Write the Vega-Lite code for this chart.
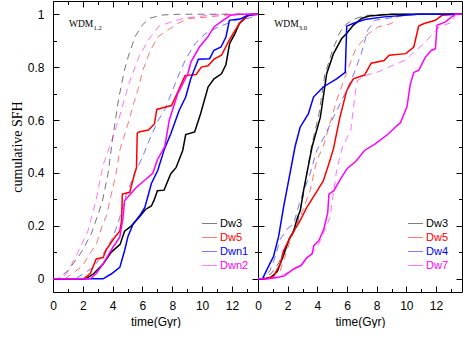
{
  "$schema": "https://vega.github.io/schema/vega-lite/v6.json",
  "background": "white",
  "padding": {"left": 10, "top": 0, "right": 0, "bottom": 0},
  "spacing": 0,
  "bounds": "flush",
  "datasets": {
    "left": [
      {"s":"Dw3","k":"solid","t":0,"v":0},{"s":"Dw3","k":"solid","t":2.2,"v":0},{"s":"Dw3","k":"solid","t":2.7,"v":0.018},{"s":"Dw3","k":"solid","t":3.36,"v":0.056},{"s":"Dw3","k":"solid","t":3.9,"v":0.1},{"s":"Dw3","k":"solid","t":4.5,"v":0.13},{"s":"Dw3","k":"solid","t":4.8,"v":0.18},{"s":"Dw3","k":"solid","t":5.26,"v":0.2},{"s":"Dw3","k":"solid","t":5.82,"v":0.235},{"s":"Dw3","k":"solid","t":6.2,"v":0.262},{"s":"Dw3","k":"solid","t":6.6,"v":0.275},{"s":"Dw3","k":"solid","t":6.8,"v":0.3},{"s":"Dw3","k":"solid","t":7.0,"v":0.333},{"s":"Dw3","k":"solid","t":7.45,"v":0.335},{"s":"Dw3","k":"solid","t":7.9,"v":0.397},{"s":"Dw3","k":"solid","t":8.25,"v":0.42},{"s":"Dw3","k":"solid","t":8.7,"v":0.485},{"s":"Dw3","k":"solid","t":8.9,"v":0.545},{"s":"Dw3","k":"solid","t":9.5,"v":0.555},{"s":"Dw3","k":"solid","t":9.9,"v":0.624},{"s":"Dw3","k":"solid","t":10.4,"v":0.725},{"s":"Dw3","k":"solid","t":10.8,"v":0.756},{"s":"Dw3","k":"solid","t":11.3,"v":0.775},{"s":"Dw3","k":"solid","t":11.6,"v":0.81},{"s":"Dw3","k":"solid","t":11.85,"v":0.89},{"s":"Dw3","k":"solid","t":12.2,"v":0.926},{"s":"Dw3","k":"solid","t":12.5,"v":0.965},{"s":"Dw3","k":"solid","t":12.95,"v":0.99},{"s":"Dw3","k":"solid","t":13.3,"v":1.0},{"s":"Dw3","k":"solid","t":13.75,"v":1.0},
      {"s":"Dw5","k":"solid","t":0,"v":0},{"s":"Dw5","k":"solid","t":2.05,"v":0},{"s":"Dw5","k":"solid","t":2.5,"v":0.02},{"s":"Dw5","k":"solid","t":2.9,"v":0.075},{"s":"Dw5","k":"solid","t":3.36,"v":0.08},{"s":"Dw5","k":"solid","t":3.58,"v":0.11},{"s":"Dw5","k":"solid","t":4.14,"v":0.157},{"s":"Dw5","k":"solid","t":4.48,"v":0.18},{"s":"Dw5","k":"solid","t":4.6,"v":0.22},{"s":"Dw5","k":"solid","t":4.65,"v":0.32},{"s":"Dw5","k":"solid","t":5.15,"v":0.327},{"s":"Dw5","k":"solid","t":5.48,"v":0.4},{"s":"Dw5","k":"solid","t":5.6,"v":0.42},{"s":"Dw5","k":"solid","t":5.65,"v":0.55},{"s":"Dw5","k":"solid","t":5.75,"v":0.555},{"s":"Dw5","k":"solid","t":6.4,"v":0.562},{"s":"Dw5","k":"solid","t":6.8,"v":0.585},{"s":"Dw5","k":"solid","t":6.96,"v":0.64},{"s":"Dw5","k":"solid","t":7.5,"v":0.648},{"s":"Dw5","k":"solid","t":7.95,"v":0.655},{"s":"Dw5","k":"solid","t":8.4,"v":0.71},{"s":"Dw5","k":"solid","t":8.85,"v":0.768},{"s":"Dw5","k":"solid","t":9.6,"v":0.772},{"s":"Dw5","k":"solid","t":9.95,"v":0.8},{"s":"Dw5","k":"solid","t":10.4,"v":0.805},{"s":"Dw5","k":"solid","t":10.8,"v":0.83},{"s":"Dw5","k":"solid","t":11.3,"v":0.845},{"s":"Dw5","k":"solid","t":11.8,"v":0.9},{"s":"Dw5","k":"solid","t":12.5,"v":0.965},{"s":"Dw5","k":"solid","t":13.1,"v":0.996},{"s":"Dw5","k":"solid","t":13.75,"v":1.0},
      {"s":"Dwn1","k":"solid","t":0,"v":0},{"s":"Dwn1","k":"solid","t":3.36,"v":0},{"s":"Dwn1","k":"solid","t":3.9,"v":0.018},{"s":"Dwn1","k":"solid","t":4.48,"v":0.043},{"s":"Dwn1","k":"solid","t":4.8,"v":0.106},{"s":"Dwn1","k":"solid","t":5.03,"v":0.16},{"s":"Dwn1","k":"solid","t":5.37,"v":0.207},{"s":"Dwn1","k":"solid","t":5.82,"v":0.239},{"s":"Dwn1","k":"solid","t":6.16,"v":0.27},{"s":"Dwn1","k":"solid","t":6.6,"v":0.36},{"s":"Dwn1","k":"solid","t":7.03,"v":0.41},{"s":"Dwn1","k":"solid","t":7.47,"v":0.49},{"s":"Dwn1","k":"solid","t":7.9,"v":0.548},{"s":"Dwn1","k":"solid","t":8.46,"v":0.636},{"s":"Dwn1","k":"solid","t":8.9,"v":0.687},{"s":"Dwn1","k":"solid","t":9.24,"v":0.756},{"s":"Dwn1","k":"solid","t":9.75,"v":0.83},{"s":"Dwn1","k":"solid","t":10.5,"v":0.832},{"s":"Dwn1","k":"solid","t":10.8,"v":0.864},{"s":"Dwn1","k":"solid","t":11.27,"v":0.876},{"s":"Dwn1","k":"solid","t":11.6,"v":0.914},{"s":"Dwn1","k":"solid","t":11.83,"v":0.977},{"s":"Dwn1","k":"solid","t":12.6,"v":0.983},{"s":"Dwn1","k":"solid","t":13.07,"v":0.996},{"s":"Dwn1","k":"solid","t":13.75,"v":1.0},
      {"s":"Dwn2","k":"solid","t":0,"v":0},{"s":"Dwn2","k":"solid","t":2.5,"v":0},{"s":"Dwn2","k":"solid","t":2.9,"v":0.02},{"s":"Dwn2","k":"solid","t":3.36,"v":0.056},{"s":"Dwn2","k":"solid","t":4.03,"v":0.12},{"s":"Dwn2","k":"solid","t":4.48,"v":0.157},{"s":"Dwn2","k":"solid","t":4.7,"v":0.232},{"s":"Dwn2","k":"solid","t":4.8,"v":0.295},{"s":"Dwn2","k":"solid","t":5.6,"v":0.346},{"s":"Dwn2","k":"solid","t":6.27,"v":0.378},{"s":"Dwn2","k":"solid","t":6.7,"v":0.4},{"s":"Dwn2","k":"solid","t":7.0,"v":0.45},{"s":"Dwn2","k":"solid","t":7.5,"v":0.5},{"s":"Dwn2","k":"solid","t":7.8,"v":0.6},{"s":"Dwn2","k":"solid","t":8.37,"v":0.7},{"s":"Dwn2","k":"solid","t":9.04,"v":0.775},{"s":"Dwn2","k":"solid","t":9.26,"v":0.82},{"s":"Dwn2","k":"solid","t":9.82,"v":0.876},{"s":"Dwn2","k":"solid","t":10.38,"v":0.914},{"s":"Dwn2","k":"solid","t":10.8,"v":0.952},{"s":"Dwn2","k":"solid","t":11.4,"v":0.977},{"s":"Dwn2","k":"solid","t":11.9,"v":0.996},{"s":"Dwn2","k":"solid","t":12.5,"v":1.0},{"s":"Dwn2","k":"solid","t":13.75,"v":1.0},
      {"s":"Dw3","k":"dashed","t":0,"v":0},{"s":"Dw3","k":"dashed","t":0.3,"v":0},{"s":"Dw3","k":"dashed","t":1.0,"v":0.03},{"s":"Dw3","k":"dashed","t":1.9,"v":0.1},{"s":"Dw3","k":"dashed","t":2.57,"v":0.17},{"s":"Dw3","k":"dashed","t":3.0,"v":0.24},{"s":"Dw3","k":"dashed","t":3.3,"v":0.29},{"s":"Dw3","k":"dashed","t":3.7,"v":0.4},{"s":"Dw3","k":"dashed","t":4.0,"v":0.53},{"s":"Dw3","k":"dashed","t":4.4,"v":0.68},{"s":"Dw3","k":"dashed","t":4.8,"v":0.79},{"s":"Dw3","k":"dashed","t":5.05,"v":0.84},{"s":"Dw3","k":"dashed","t":5.5,"v":0.915},{"s":"Dw3","k":"dashed","t":6.0,"v":0.96},{"s":"Dw3","k":"dashed","t":6.5,"v":0.985},{"s":"Dw3","k":"dashed","t":7.3,"v":0.997},{"s":"Dw3","k":"dashed","t":8.5,"v":1.0},{"s":"Dw3","k":"dashed","t":13.75,"v":1.0},
      {"s":"Dw5","k":"dashed","t":0,"v":0},{"s":"Dw5","k":"dashed","t":0.8,"v":0},{"s":"Dw5","k":"dashed","t":1.44,"v":0.025},{"s":"Dw5","k":"dashed","t":2.0,"v":0.05},{"s":"Dw5","k":"dashed","t":2.4,"v":0.09},{"s":"Dw5","k":"dashed","t":2.9,"v":0.13},{"s":"Dw5","k":"dashed","t":3.3,"v":0.2},{"s":"Dw5","k":"dashed","t":3.6,"v":0.24},{"s":"Dw5","k":"dashed","t":3.95,"v":0.33},{"s":"Dw5","k":"dashed","t":4.2,"v":0.39},{"s":"Dw5","k":"dashed","t":4.5,"v":0.49},{"s":"Dw5","k":"dashed","t":5.0,"v":0.58},{"s":"Dw5","k":"dashed","t":5.4,"v":0.66},{"s":"Dw5","k":"dashed","t":5.72,"v":0.72},{"s":"Dw5","k":"dashed","t":6.04,"v":0.79},{"s":"Dw5","k":"dashed","t":6.5,"v":0.86},{"s":"Dw5","k":"dashed","t":7.03,"v":0.914},{"s":"Dw5","k":"dashed","t":7.7,"v":0.94},{"s":"Dw5","k":"dashed","t":8.37,"v":0.965},{"s":"Dw5","k":"dashed","t":9.04,"v":0.983},{"s":"Dw5","k":"dashed","t":10.45,"v":0.99},{"s":"Dw5","k":"dashed","t":11.5,"v":0.996},{"s":"Dw5","k":"dashed","t":12.5,"v":1.0},{"s":"Dw5","k":"dashed","t":13.75,"v":1.0},
      {"s":"Dwn1","k":"dashed","t":0,"v":0},{"s":"Dwn1","k":"dashed","t":1.5,"v":0},{"s":"Dwn1","k":"dashed","t":2.7,"v":0.043},{"s":"Dwn1","k":"dashed","t":3.36,"v":0.094},{"s":"Dwn1","k":"dashed","t":4.03,"v":0.157},{"s":"Dwn1","k":"dashed","t":4.48,"v":0.232},{"s":"Dwn1","k":"dashed","t":4.92,"v":0.32},{"s":"Dwn1","k":"dashed","t":5.5,"v":0.4},{"s":"Dwn1","k":"dashed","t":6.0,"v":0.46},{"s":"Dwn1","k":"dashed","t":6.5,"v":0.53},{"s":"Dwn1","k":"dashed","t":7.07,"v":0.6},{"s":"Dwn1","k":"dashed","t":7.5,"v":0.64},{"s":"Dwn1","k":"dashed","t":8.0,"v":0.71},{"s":"Dwn1","k":"dashed","t":8.5,"v":0.78},{"s":"Dwn1","k":"dashed","t":8.9,"v":0.83},{"s":"Dwn1","k":"dashed","t":9.55,"v":0.89},{"s":"Dwn1","k":"dashed","t":10.2,"v":0.926},{"s":"Dwn1","k":"dashed","t":11.1,"v":0.952},{"s":"Dwn1","k":"dashed","t":12.25,"v":0.977},{"s":"Dwn1","k":"dashed","t":13.15,"v":0.985},{"s":"Dwn1","k":"dashed","t":13.75,"v":1.0},
      {"s":"Dwn2","k":"dashed","t":0,"v":0},{"s":"Dwn2","k":"dashed","t":0.5,"v":0},{"s":"Dwn2","k":"dashed","t":0.9,"v":0.018},{"s":"Dwn2","k":"dashed","t":1.67,"v":0.1},{"s":"Dwn2","k":"dashed","t":2.34,"v":0.18},{"s":"Dwn2","k":"dashed","t":2.9,"v":0.3},{"s":"Dwn2","k":"dashed","t":3.36,"v":0.43},{"s":"Dwn2","k":"dashed","t":3.8,"v":0.5},{"s":"Dwn2","k":"dashed","t":4.4,"v":0.6},{"s":"Dwn2","k":"dashed","t":5.1,"v":0.74},{"s":"Dwn2","k":"dashed","t":5.77,"v":0.84},{"s":"Dwn2","k":"dashed","t":6.45,"v":0.907},{"s":"Dwn2","k":"dashed","t":7.1,"v":0.955},{"s":"Dwn2","k":"dashed","t":7.9,"v":0.97},{"s":"Dwn2","k":"dashed","t":8.8,"v":0.985},{"s":"Dwn2","k":"dashed","t":10.45,"v":0.996},{"s":"Dwn2","k":"dashed","t":11.5,"v":1.0},{"s":"Dwn2","k":"dashed","t":13.75,"v":1.0}
    ],
    "right": [
      {"s":"Dw3","k":"solid","t":0,"v":0},{"s":"Dw3","k":"solid","t":0.4,"v":0},{"s":"Dw3","k":"solid","t":0.85,"v":0.005},{"s":"Dw3","k":"solid","t":1.3,"v":0.027},{"s":"Dw3","k":"solid","t":1.75,"v":0.094},{"s":"Dw3","k":"solid","t":2.1,"v":0.15},{"s":"Dw3","k":"solid","t":2.4,"v":0.18},{"s":"Dw3","k":"solid","t":2.65,"v":0.23},{"s":"Dw3","k":"solid","t":2.85,"v":0.258},{"s":"Dw3","k":"solid","t":3.07,"v":0.333},{"s":"Dw3","k":"solid","t":3.3,"v":0.4},{"s":"Dw3","k":"solid","t":3.65,"v":0.5},{"s":"Dw3","k":"solid","t":4.2,"v":0.61},{"s":"Dw3","k":"solid","t":4.63,"v":0.775},{"s":"Dw3","k":"solid","t":5.08,"v":0.85},{"s":"Dw3","k":"solid","t":5.64,"v":0.908},{"s":"Dw3","k":"solid","t":5.97,"v":0.927},{"s":"Dw3","k":"solid","t":6.42,"v":0.958},{"s":"Dw3","k":"solid","t":7.0,"v":0.985},{"s":"Dw3","k":"solid","t":7.5,"v":0.993},{"s":"Dw3","k":"solid","t":9.0,"v":1.0},{"s":"Dw3","k":"solid","t":13.75,"v":1.0},
      {"s":"Dw5","k":"solid","t":0,"v":0},{"s":"Dw5","k":"solid","t":0.6,"v":0},{"s":"Dw5","k":"solid","t":1.05,"v":0.01},{"s":"Dw5","k":"solid","t":1.5,"v":0.056},{"s":"Dw5","k":"solid","t":1.72,"v":0.106},{"s":"Dw5","k":"solid","t":2.17,"v":0.157},{"s":"Dw5","k":"solid","t":2.84,"v":0.22},{"s":"Dw5","k":"solid","t":3.29,"v":0.27},{"s":"Dw5","k":"solid","t":3.85,"v":0.32},{"s":"Dw5","k":"solid","t":4.4,"v":0.37},{"s":"Dw5","k":"solid","t":4.75,"v":0.43},{"s":"Dw5","k":"solid","t":5.08,"v":0.49},{"s":"Dw5","k":"solid","t":5.52,"v":0.61},{"s":"Dw5","k":"solid","t":5.97,"v":0.71},{"s":"Dw5","k":"solid","t":6.42,"v":0.756},{"s":"Dw5","k":"solid","t":7.18,"v":0.77},{"s":"Dw5","k":"solid","t":7.63,"v":0.815},{"s":"Dw5","k":"solid","t":8.5,"v":0.825},{"s":"Dw5","k":"solid","t":8.84,"v":0.845},{"s":"Dw5","k":"solid","t":9.96,"v":0.851},{"s":"Dw5","k":"solid","t":10.5,"v":0.876},{"s":"Dw5","k":"solid","t":10.83,"v":0.955},{"s":"Dw5","k":"solid","t":11.2,"v":0.965},{"s":"Dw5","k":"solid","t":11.96,"v":0.977},{"s":"Dw5","k":"solid","t":12.4,"v":0.996},{"s":"Dw5","k":"solid","t":13.4,"v":1.0},{"s":"Dw5","k":"solid","t":13.75,"v":1.0},
      {"s":"Dw4","k":"solid","t":0,"v":0},{"s":"Dw4","k":"solid","t":0.3,"v":0},{"s":"Dw4","k":"solid","t":0.65,"v":0.04},{"s":"Dw4","k":"solid","t":1.05,"v":0.085},{"s":"Dw4","k":"solid","t":1.39,"v":0.16},{"s":"Dw4","k":"solid","t":1.72,"v":0.27},{"s":"Dw4","k":"solid","t":2.06,"v":0.37},{"s":"Dw4","k":"solid","t":2.5,"v":0.5},{"s":"Dw4","k":"solid","t":2.84,"v":0.573},{"s":"Dw4","k":"solid","t":3.4,"v":0.624},{"s":"Dw4","k":"solid","t":3.74,"v":0.687},{"s":"Dw4","k":"solid","t":4.4,"v":0.725},{"s":"Dw4","k":"solid","t":5.3,"v":0.756},{"s":"Dw4","k":"solid","t":5.88,"v":0.78},{"s":"Dw4","k":"solid","t":5.98,"v":0.955},{"s":"Dw4","k":"solid","t":6.4,"v":0.965},{"s":"Dw4","k":"solid","t":7.2,"v":0.98},{"s":"Dw4","k":"solid","t":8.5,"v":0.99},{"s":"Dw4","k":"solid","t":10.8,"v":1.0},{"s":"Dw4","k":"solid","t":13.75,"v":1.0},
      {"s":"Dw7","k":"solid","t":0,"v":0},{"s":"Dw7","k":"solid","t":0.7,"v":0},{"s":"Dw7","k":"solid","t":1.28,"v":0.005},{"s":"Dw7","k":"solid","t":1.78,"v":0.011},{"s":"Dw7","k":"solid","t":2.4,"v":0.037},{"s":"Dw7","k":"solid","t":2.9,"v":0.05},{"s":"Dw7","k":"solid","t":3.3,"v":0.08},{"s":"Dw7","k":"solid","t":3.65,"v":0.094},{"s":"Dw7","k":"solid","t":3.76,"v":0.125},{"s":"Dw7","k":"solid","t":4.1,"v":0.144},{"s":"Dw7","k":"solid","t":4.44,"v":0.188},{"s":"Dw7","k":"solid","t":4.7,"v":0.25},{"s":"Dw7","k":"solid","t":4.78,"v":0.32},{"s":"Dw7","k":"solid","t":5.11,"v":0.333},{"s":"Dw7","k":"solid","t":5.57,"v":0.378},{"s":"Dw7","k":"solid","t":6.0,"v":0.416},{"s":"Dw7","k":"solid","t":6.6,"v":0.444},{"s":"Dw7","k":"solid","t":7.18,"v":0.485},{"s":"Dw7","k":"solid","t":7.9,"v":0.51},{"s":"Dw7","k":"solid","t":8.8,"v":0.548},{"s":"Dw7","k":"solid","t":9.25,"v":0.573},{"s":"Dw7","k":"solid","t":9.6,"v":0.59},{"s":"Dw7","k":"solid","t":10.04,"v":0.65},{"s":"Dw7","k":"solid","t":10.27,"v":0.737},{"s":"Dw7","k":"solid","t":10.5,"v":0.78},{"s":"Dw7","k":"solid","t":10.83,"v":0.788},{"s":"Dw7","k":"solid","t":11.28,"v":0.838},{"s":"Dw7","k":"solid","t":11.7,"v":0.864},{"s":"Dw7","k":"solid","t":11.96,"v":0.87},{"s":"Dw7","k":"solid","t":12.07,"v":0.958},{"s":"Dw7","k":"solid","t":12.6,"v":0.97},{"s":"Dw7","k":"solid","t":13.3,"v":1.0},{"s":"Dw7","k":"solid","t":13.75,"v":1.0},
      {"s":"Dw3","k":"dashed","t":0,"v":0},{"s":"Dw3","k":"dashed","t":0.3,"v":0},{"s":"Dw3","k":"dashed","t":0.9,"v":0.02},{"s":"Dw3","k":"dashed","t":1.4,"v":0.06},{"s":"Dw3","k":"dashed","t":1.8,"v":0.11},{"s":"Dw3","k":"dashed","t":2.3,"v":0.17},{"s":"Dw3","k":"dashed","t":2.7,"v":0.22},{"s":"Dw3","k":"dashed","t":3.0,"v":0.3},{"s":"Dw3","k":"dashed","t":3.3,"v":0.4},{"s":"Dw3","k":"dashed","t":3.6,"v":0.5},{"s":"Dw3","k":"dashed","t":4.1,"v":0.62},{"s":"Dw3","k":"dashed","t":4.5,"v":0.77},{"s":"Dw3","k":"dashed","t":5.0,"v":0.86},{"s":"Dw3","k":"dashed","t":5.5,"v":0.93},{"s":"Dw3","k":"dashed","t":5.9,"v":0.96},{"s":"Dw3","k":"dashed","t":6.4,"v":0.98},{"s":"Dw3","k":"dashed","t":7.2,"v":0.995},{"s":"Dw3","k":"dashed","t":8.5,"v":1.0},{"s":"Dw3","k":"dashed","t":13.75,"v":1.0},
      {"s":"Dw5","k":"dashed","t":0,"v":0},{"s":"Dw5","k":"dashed","t":0.6,"v":0},{"s":"Dw5","k":"dashed","t":1.5,"v":0.03},{"s":"Dw5","k":"dashed","t":2.17,"v":0.144},{"s":"Dw5","k":"dashed","t":2.84,"v":0.232},{"s":"Dw5","k":"dashed","t":3.51,"v":0.333},{"s":"Dw5","k":"dashed","t":3.96,"v":0.447},{"s":"Dw5","k":"dashed","t":4.4,"v":0.5},{"s":"Dw5","k":"dashed","t":5.3,"v":0.674},{"s":"Dw5","k":"dashed","t":5.97,"v":0.78},{"s":"Dw5","k":"dashed","t":6.6,"v":0.87},{"s":"Dw5","k":"dashed","t":7.42,"v":0.926},{"s":"Dw5","k":"dashed","t":8.1,"v":0.952},{"s":"Dw5","k":"dashed","t":9.0,"v":0.965},{"s":"Dw5","k":"dashed","t":9.45,"v":0.996},{"s":"Dw5","k":"dashed","t":10.5,"v":1.0},{"s":"Dw5","k":"dashed","t":13.75,"v":1.0},
      {"s":"Dw4","k":"dashed","t":0,"v":0},{"s":"Dw4","k":"dashed","t":0.3,"v":0},{"s":"Dw4","k":"dashed","t":0.8,"v":0.03},{"s":"Dw4","k":"dashed","t":1.2,"v":0.09},{"s":"Dw4","k":"dashed","t":1.5,"v":0.15},{"s":"Dw4","k":"dashed","t":2.0,"v":0.19},{"s":"Dw4","k":"dashed","t":2.4,"v":0.207},{"s":"Dw4","k":"dashed","t":2.84,"v":0.295},{"s":"Dw4","k":"dashed","t":3.51,"v":0.397},{"s":"Dw4","k":"dashed","t":3.96,"v":0.485},{"s":"Dw4","k":"dashed","t":4.5,"v":0.54},{"s":"Dw4","k":"dashed","t":5.08,"v":0.61},{"s":"Dw4","k":"dashed","t":5.97,"v":0.712},{"s":"Dw4","k":"dashed","t":6.5,"v":0.78},{"s":"Dw4","k":"dashed","t":6.96,"v":0.851},{"s":"Dw4","k":"dashed","t":7.4,"v":0.94},{"s":"Dw4","k":"dashed","t":7.86,"v":0.977},{"s":"Dw4","k":"dashed","t":8.8,"v":0.985},{"s":"Dw4","k":"dashed","t":9.9,"v":0.996},{"s":"Dw4","k":"dashed","t":11.0,"v":1.0},{"s":"Dw4","k":"dashed","t":13.75,"v":1.0},
      {"s":"Dw7","k":"dashed","t":0,"v":0},{"s":"Dw7","k":"dashed","t":0.7,"v":0},{"s":"Dw7","k":"dashed","t":1.5,"v":0.01},{"s":"Dw7","k":"dashed","t":2.23,"v":0.03},{"s":"Dw7","k":"dashed","t":3.0,"v":0.06},{"s":"Dw7","k":"dashed","t":3.58,"v":0.094},{"s":"Dw7","k":"dashed","t":4.0,"v":0.12},{"s":"Dw7","k":"dashed","t":4.4,"v":0.17},{"s":"Dw7","k":"dashed","t":4.85,"v":0.232},{"s":"Dw7","k":"dashed","t":5.3,"v":0.41},{"s":"Dw7","k":"dashed","t":5.7,"v":0.5},{"s":"Dw7","k":"dashed","t":6.25,"v":0.56},{"s":"Dw7","k":"dashed","t":6.55,"v":0.7},{"s":"Dw7","k":"dashed","t":6.7,"v":0.75},{"s":"Dw7","k":"dashed","t":7.45,"v":0.772},{"s":"Dw7","k":"dashed","t":8.1,"v":0.782},{"s":"Dw7","k":"dashed","t":8.8,"v":0.8},{"s":"Dw7","k":"dashed","t":9.93,"v":0.826},{"s":"Dw7","k":"dashed","t":10.38,"v":0.85},{"s":"Dw7","k":"dashed","t":11.0,"v":0.88},{"s":"Dw7","k":"dashed","t":11.7,"v":0.92},{"s":"Dw7","k":"dashed","t":12.2,"v":0.952},{"s":"Dw7","k":"dashed","t":13.1,"v":0.97},{"s":"Dw7","k":"dashed","t":13.3,"v":1.0},{"s":"Dw7","k":"dashed","t":13.75,"v":1.0}
    ]
  },
  "hconcat": [
    {
      "width": 205,
      "height": 291,
      "layer": [
        {
          "data": {"name": "left"},
          "encoding": {
            "x": {"field": "t", "type": "quantitative", "scale": {"domain": [0, 13.75], "nice": false, "zero": false},
              "axis": {"orient": "bottom", "values": [0,1,2,3,4,5,6,7,8,9,10,11,12,13], "labelExpr": "datum.value % 2 == 0 ? datum.label : ''", "tickSize": {"condition": {"test": "datum.value % 2 == 0", "value": -6}, "value": -3.5}, "labelPadding": 14, "labelFlush": false, "labelOverlap": false, "labelFont": "Liberation Sans", "labelFontSize": 12, "labelColor": "black", "title": "time(Gyr)", "titleFont": "Liberation Sans", "titleFontSize": 12, "titleFontWeight": "normal", "titleColor": "black", "titlePadding": 3}},
            "y": {"field": "v", "type": "quantitative", "scale": {"domain": [-0.05, 1.05], "nice": false, "zero": false},
              "axis": {"orient": "left", "values": [0,0.1,0.2,0.3,0.4,0.5,0.6,0.7,0.8,0.9,1], "labelExpr": "round(datum.value*10) % 2 == 0 ? format(datum.value, '~g') : ''", "tickSize": {"condition": {"test": "round(datum.value*10) % 2 == 0", "value": -6}, "value": -3.5}, "labelPadding": 15, "labelFlush": false, "labelOverlap": false, "labelFont": "Liberation Sans", "labelFontSize": 12, "labelColor": "black", "title": "cumulative SFH", "titleFont": "Liberation Serif", "titleFontSize": 14, "titleFontWeight": "normal", "titleColor": "black", "titlePadding": 2.5}},
            "color": {"field": "s", "type": "nominal", "scale": {"domain": ["Dw3", "Dw5", "Dwn1", "Dwn2"], "range": ["#000000", "#ff0000", "#0000ff", "#ff00ff"]},
              "legend": {"orient": "none", "legendX": 148, "legendY": 214, "title": null, "padding": 0, "symbolType": "stroke", "symbolSize": 225, "symbolStrokeWidth": 1.2, "symbolOpacity": 0.5, "symbolDash": [1, 0], "labelFont": "Liberation Sans", "labelFontSize": 11, "labelOffset": 2, "rowPadding": -2.5,
                "encode": {"labels": {"update": {"fill": {"signal": "datum.value == 'Dw3' ? '#000000' : datum.value == 'Dw5' ? '#ff0000' : datum.value == 'Dwn1' ? '#0000ff' : '#ff00ff'"}}}}}}
          },
          "layer": [
            {"transform": [{"filter": "datum.k == 'dashed'"}], "mark": {"type": "line", "strokeDash": [7, 5], "strokeWidth": 1, "opacity": 0.55}},
            {"transform": [{"filter": "datum.k == 'solid'"}], "mark": {"type": "line", "strokeWidth": 1.5}}
          ]
        },
        {
          "data": {"values": [{"t": 1.07, "v": 0.952, "lab": "WDM"}]},
          "mark": {"type": "text", "font": "Liberation Serif", "fontSize": 9.5, "align": "left", "baseline": "alphabetic", "color": "black"},
          "encoding": {
            "x": {"field": "t", "type": "quantitative", "axis": {"orient": "top", "values": [0,1,2,3,4,5,6,7,8,9,10,11,12,13], "labels": false, "title": null, "tickSize": {"condition": {"test": "datum.value % 2 == 0", "value": -6}, "value": -3.5}}},
            "y": {"field": "v", "type": "quantitative", "axis": {"orient": "right", "values": [0,0.1,0.2,0.3,0.4,0.5,0.6,0.7,0.8,0.9,1], "labels": false, "title": null, "tickSize": {"condition": {"test": "round(datum.value*10) % 2 == 0", "value": -6}, "value": -3.5}}},
            "text": {"field": "lab"}
          }
        },
        {
          "data": {"values": [{"t": 2.72, "v": 0.94, "lab": "1.2"}]},
          "mark": {"type": "text", "font": "Liberation Serif", "fontSize": 6.5, "align": "left", "baseline": "alphabetic", "color": "black"},
          "encoding": {
            "x": {"field": "t", "type": "quantitative", "axis": null},
            "y": {"field": "v", "type": "quantitative", "axis": null},
            "text": {"field": "lab"}
          }
        }
      ],
      "resolve": {"axis": {"x": "independent", "y": "independent"}}
    },
    {
      "width": 204,
      "height": 291,
      "layer": [
        {
          "data": {"name": "right"},
          "encoding": {
            "x": {"field": "t", "type": "quantitative", "scale": {"domain": [0, 13.75], "nice": false, "zero": false},
              "axis": {"orient": "bottom", "values": [0,1,2,3,4,5,6,7,8,9,10,11,12,13], "labelExpr": "datum.value % 2 == 0 ? datum.label : ''", "tickSize": {"condition": {"test": "datum.value % 2 == 0", "value": -6}, "value": -3.5}, "labelPadding": 14, "labelFlush": false, "labelOverlap": false, "labelFont": "Liberation Sans", "labelFontSize": 12, "labelColor": "black", "title": "time(Gyr)", "titleFont": "Liberation Sans", "titleFontSize": 12, "titleFontWeight": "normal", "titleColor": "black", "titlePadding": 3}},
            "y": {"field": "v", "type": "quantitative", "scale": {"domain": [-0.05, 1.05], "nice": false, "zero": false},
              "axis": {"orient": "left", "values": [0,0.1,0.2,0.3,0.4,0.5,0.6,0.7,0.8,0.9,1], "labels": false, "title": null, "tickSize": {"condition": {"test": "round(datum.value*10) % 2 == 0", "value": -6}, "value": -3.5}}},
            "color": {"field": "s", "type": "nominal", "scale": {"domain": ["Dw3", "Dw5", "Dw4", "Dw7"], "range": ["#000000", "#ff0000", "#0000ff", "#ff00ff"]},
              "legend": {"orient": "none", "legendX": 149, "legendY": 214, "title": null, "padding": 0, "symbolType": "stroke", "symbolSize": 225, "symbolStrokeWidth": 1.2, "symbolOpacity": 0.5, "symbolDash": [1, 0], "labelFont": "Liberation Sans", "labelFontSize": 11, "labelOffset": 2, "rowPadding": -2.5,
                "encode": {"labels": {"update": {"fill": {"signal": "datum.value == 'Dw3' ? '#000000' : datum.value == 'Dw5' ? '#ff0000' : datum.value == 'Dw4' ? '#0000ff' : '#ff00ff'"}}}}}}
          },
          "layer": [
            {"transform": [{"filter": "datum.k == 'dashed'"}], "mark": {"type": "line", "strokeDash": [7, 5], "strokeWidth": 1, "opacity": 0.55}},
            {"transform": [{"filter": "datum.k == 'solid'"}], "mark": {"type": "line", "strokeWidth": 1.5}}
          ]
        },
        {
          "data": {"values": [{"t": 1.1, "v": 0.95, "lab": "WDM"}]},
          "mark": {"type": "text", "font": "Liberation Serif", "fontSize": 9.5, "align": "left", "baseline": "alphabetic", "color": "black"},
          "encoding": {
            "x": {"field": "t", "type": "quantitative", "axis": {"orient": "top", "values": [0,1,2,3,4,5,6,7,8,9,10,11,12,13], "labels": false, "title": null, "tickSize": {"condition": {"test": "datum.value % 2 == 0", "value": -6}, "value": -3.5}}},
            "y": {"field": "v", "type": "quantitative", "axis": {"orient": "right", "values": [0,0.1,0.2,0.3,0.4,0.5,0.6,0.7,0.8,0.9,1], "labels": false, "title": null, "tickSize": {"condition": {"test": "round(datum.value*10) % 2 == 0", "value": -6}, "value": -3.5}}},
            "text": {"field": "lab"}
          }
        },
        {
          "data": {"values": [{"t": 2.75, "v": 0.942, "lab": "3.0"}]},
          "mark": {"type": "text", "font": "Liberation Serif", "fontSize": 6.5, "align": "left", "baseline": "alphabetic", "color": "black"},
          "encoding": {
            "x": {"field": "t", "type": "quantitative", "axis": null},
            "y": {"field": "v", "type": "quantitative", "axis": null},
            "text": {"field": "lab"}
          }
        }
      ],
      "resolve": {"axis": {"x": "independent", "y": "independent"}}
    }
  ],
  "resolve": {"scale": {"color": "independent"}, "legend": {"color": "independent"}},
  "config": {
    "view": {"stroke": null},
    "axis": {"grid": false, "domainColor": "black", "tickColor": "black", "domainWidth": 1, "tickWidth": 1}
  }
}
